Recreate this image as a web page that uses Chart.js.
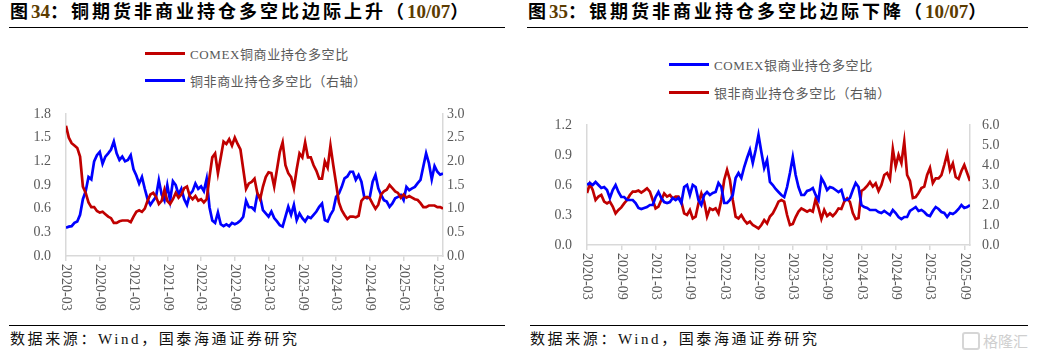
<!DOCTYPE html>
<html>
<head>
<meta charset="utf-8">
<script src="https://cdn.jsdelivr.net/npm/chart.js@4.4.1/dist/chart.umd.min.js"></script>
<style>
    body { margin: 0; background: #fff; }
    #page { position: relative; width: 1037px; height: 352px; overflow: hidden; font-family: "Liberation Serif", "Noto Sans CJK SC", serif; }
    .title { position: absolute; top: 0; font-size: 18px; line-height: 24px; font-weight: bold; letter-spacing: 3px; color: #000; white-space: nowrap; font-family: "Liberation Serif", "Noto Sans CJK SC", serif; }
    .title .num { color: #5c3c00; letter-spacing: 0; font-size: 19px; }
    .rule { position: absolute; height: 1px; background: #000; }
    .footer { position: absolute; top: 327px; font-size: 15px; letter-spacing: 2.6px; color: #111; white-space: nowrap; }
    .legend { position: absolute; font-size: 13px; color: #595959; letter-spacing: 0.6px; white-space: nowrap; }
    .legend .row { position: absolute; left: 0; height: 20px; display: flex; align-items: center; }
    .legend .swatch { width: 40px; height: 3px; margin-right: 5px; }
    canvas { position: absolute; top: 0; }
    .mark { position: absolute; left: 962px; top: 330px; color: #cfcfcf; font-size: 15px; font-family: "Noto Sans CJK SC", sans-serif; white-space: nowrap; }
    .mark b { display: inline-block; width: 14px; height: 14px; border: 2px solid #d6d6d6; border-radius: 3px; vertical-align: -3px; margin-right: 3px; }
</style>
</head>
<body>
<div id="page">
    <div class="title" style="left:10px">图<span class="num">34</span>：铜期货非商业持仓多空比边际上升（<span class="num">10/07</span>）</div>
    <div class="rule" style="left:9px; width:496px; top:27px"></div>
    <div class="title" style="left:528px">图<span class="num">35</span>：银期货非商业持仓多空比边际下降（<span class="num">10/07</span>）</div>
    <div class="rule" style="left:527px; width:501px; top:27px"></div>

    <div class="legend" id="legendCu" style="left:145px; top:0"></div>
    <div class="legend" id="legendAg" style="left:669px; top:0"></div>

    <canvas id="chartCu" width="520" height="320" style="left:0"></canvas>
    <canvas id="chartAg" width="517" height="320" style="left:520px"></canvas>

    <div class="rule" style="left:9px; width:496px; top:325px"></div>
    <div class="rule" style="left:530px; width:498px; top:325px"></div>
    <div class="footer" style="left:10px">数据来源：Wind，国泰海通证券研究</div>
    <div class="footer" style="left:530px">数据来源：Wind，国泰海通证券研究</div>
    <div class="mark"><b></b>格隆汇</div>
</div>
<script>
// x 轴：自 2020-03 起的月数，半月一个点
const months = Array.from({ length: 135 }, (_, i) => i * 0.5);
const tickMonths = [0, 6, 12, 18, 24, 30, 36, 42, 48, 54, 60, 66];
const tickLabels = ['2020-03', '2020-09', '2021-03', '2021-09', '2022-03', '2022-09',
    '2023-03', '2023-09', '2024-03', '2024-09', '2025-03', '2025-09'];

// 图34 铜
const cuComexLabel = 'COMEX铜商业持仓多空比';
const cuNonCommLabel = '铜非商业持仓多空比（右轴）';
const cuComex = [1.65, 1.50, 1.43, 1.40, 1.37, 1.26, 0.88, 0.80, 0.68, 0.62,
    0.62, 0.57, 0.55, 0.56, 0.53, 0.50, 0.48, 0.42, 0.42, 0.44,
    0.45, 0.45, 0.45, 0.43, 0.50, 0.56, 0.58, 0.56, 0.60, 0.70,
    0.78, 0.80, 0.75, 0.66, 0.70, 0.84, 0.70, 0.66, 0.72, 0.80,
    0.74, 0.78, 0.86, 0.88, 0.76, 0.72, 0.76, 0.70, 0.72, 0.68,
    0.72, 1.00, 1.25, 1.30, 1.05, 1.25, 1.45, 1.42, 1.48, 1.40,
    1.50, 1.42, 1.35, 1.10, 0.85, 0.92, 0.94, 0.98, 0.80, 0.72,
    0.88, 1.00, 1.06, 1.05, 0.88, 1.10, 1.32, 1.44, 1.15, 1.05,
    1.00, 0.86, 1.10, 1.30, 1.25, 1.44, 1.25, 1.25, 1.15, 1.08,
    0.98, 0.98, 1.20, 1.12, 1.40, 1.15, 0.92, 0.68, 0.58, 0.52,
    0.47, 0.50, 0.50, 0.49, 0.51, 0.70, 0.74, 0.75, 0.73, 0.66,
    0.60, 0.65, 0.78, 0.82, 0.84, 0.90, 0.86, 0.82, 0.80, 0.74,
    0.78, 0.74, 0.76, 0.74, 0.72, 0.71, 0.67, 0.62, 0.62, 0.64,
    0.64, 0.64, 0.62, 0.62, 0.60];
const cuNonComm = [0.60, 0.62, 0.63, 0.70, 0.73, 0.87, 1.20, 1.37, 1.67, 1.62,
    2.00, 2.13, 2.20, 1.95, 2.10, 2.17, 2.25, 2.42, 2.17, 2.03,
    2.10, 2.00, 2.03, 2.13, 1.83, 1.70, 1.53, 1.67, 1.42, 1.20,
    1.08, 1.17, 1.25, 1.60, 1.30, 1.17, 1.50, 1.17, 1.58, 1.50,
    1.30, 1.42, 1.20, 1.08, 1.30, 1.37, 1.53, 1.42, 1.47, 1.37,
    1.63, 1.03, 0.75, 0.70, 0.92, 0.67, 0.63, 0.67, 0.63, 0.70,
    0.67, 0.70, 0.75, 0.83, 1.17, 1.03, 1.03, 0.97, 1.30, 1.25,
    0.97, 0.90, 0.83, 0.94, 0.80, 0.73, 0.65, 0.62, 0.83, 1.04,
    0.87, 1.08, 0.76, 0.90, 0.80, 0.73, 0.83, 0.80, 0.87, 0.94,
    1.04, 1.11, 0.76, 0.73, 0.87, 0.97, 1.25, 1.32, 1.46, 1.64,
    1.68, 1.78, 1.78, 1.61, 1.71, 1.57, 1.25, 1.22, 1.25, 1.57,
    1.71, 1.43, 1.29, 1.18, 1.15, 1.04, 1.11, 1.22, 1.25, 1.29,
    1.18, 1.46, 1.39, 1.43, 1.46, 1.54, 1.61, 1.89, 2.17, 1.96,
    1.62, 1.90, 1.78, 1.72, 1.74];

// 图35 银
const agComexLabel = 'COMEX银商业持仓多空比';
const agNonCommLabel = '银非商业持仓多空比（右轴）';
const agComex = [0.60, 0.62, 0.60, 0.63, 0.60, 0.57, 0.58, 0.55, 0.47, 0.55,
    0.60, 0.53, 0.48, 0.48, 0.45, 0.45, 0.45, 0.42, 0.37, 0.36,
    0.37, 0.38, 0.40, 0.40, 0.48, 0.53, 0.47, 0.43, 0.42, 0.43,
    0.47, 0.45, 0.47, 0.42, 0.58, 0.60, 0.50, 0.60, 0.58, 0.45,
    0.40, 0.50, 0.53, 0.50, 0.52, 0.53, 0.62, 0.58, 0.42, 0.42,
    0.45, 0.50, 0.67, 0.72, 0.67, 0.78, 0.87, 0.95, 0.82, 0.95,
    1.10, 0.93, 0.77, 0.85, 0.63, 0.60, 0.56, 0.53, 0.50, 0.48,
    0.58, 0.72, 0.88, 0.70, 0.58, 0.50, 0.50, 0.54, 0.55, 0.57,
    0.50, 0.45, 0.67, 0.62, 0.55, 0.58, 0.57, 0.55, 0.53, 0.55,
    0.45, 0.45, 0.47, 0.55, 0.62, 0.58, 0.40, 0.38, 0.37, 0.35,
    0.35, 0.35, 0.33, 0.32, 0.34, 0.32, 0.30, 0.35, 0.32, 0.28,
    0.26, 0.28, 0.28, 0.34, 0.36, 0.38, 0.34, 0.35, 0.33, 0.30,
    0.29, 0.34, 0.38, 0.36, 0.33, 0.32, 0.28, 0.32, 0.31, 0.33,
    0.36, 0.40, 0.37, 0.38, 0.40];
const agNonComm = [2.60, 3.05, 2.75, 2.25, 2.42, 2.50, 2.17, 2.08, 2.17, 1.92,
    1.58, 1.75, 1.88, 2.08, 2.25, 2.50, 2.67, 2.67, 2.72, 2.62,
    2.72, 2.83, 2.67, 2.25, 1.83, 1.92, 2.25, 2.58, 2.42, 2.50,
    2.33, 2.42, 2.42, 2.17, 1.58, 1.50, 1.75, 1.33, 1.42, 2.08,
    2.58, 2.17, 1.42, 1.83, 1.75, 1.83, 1.58, 2.25, 3.25, 3.75,
    3.25, 2.25, 1.42, 1.33, 1.50, 1.25, 1.08, 1.17, 1.00, 0.92,
    0.83, 1.00, 1.25, 1.08, 1.42, 1.58, 1.85, 2.17, 2.25, 2.17,
    1.50, 1.00, 1.05, 1.40, 1.67, 1.83, 1.75, 1.67, 1.75, 1.67,
    2.30, 1.85, 1.30, 1.75, 1.45, 1.58, 1.45, 1.60, 1.83, 1.80,
    2.17, 2.33, 2.15, 1.60, 1.30, 1.35, 2.70, 2.80, 2.95, 3.15,
    2.92, 3.08, 2.70, 3.00, 3.50, 3.60, 3.30, 4.80, 3.92, 4.50,
    4.10, 5.17, 3.50, 3.20, 2.35, 2.40, 2.60, 2.85, 2.92, 3.50,
    3.85, 3.10, 3.33, 3.33, 3.50, 4.00, 4.55, 3.75, 4.08, 3.40,
    3.30, 3.70, 4.00, 3.60, 3.20];

const RED = '#c00000';
const BLUE = '#0000ff';
const AXIS = '#d9d9d9';
const TEXT = '#595959';
const FONT = { family: '"Liberation Serif", "Times New Roman", serif', size: 14 };

// x 轴标签顺时针竖排，Chart.js 自带旋转方向相反，所以自己画
const xLabelPlugin = {
    id: 'xLabels',
    afterDraw(chart) {
        const { ctx } = chart;
        const x = chart.scales.x;
        ctx.save();
        ctx.fillStyle = TEXT;
        ctx.font = FONT.size + 'px ' + FONT.family;
        ctx.textAlign = 'left';
        ctx.textBaseline = 'middle';
        x.ticks.forEach((t, i) => {
            ctx.save();
            ctx.translate(x.getPixelForValue(t.value), x.top + 8);
            ctx.rotate(Math.PI / 2);
            ctx.fillText(tickLabels[i], 0, 0);
            ctx.restore();
        });
        ctx.restore();
    }
};

function series(values, label, color, axis) {
    return {
        label: label,
        data: months.map((m, i) => ({ x: m, y: values[i] })),
        borderColor: color,
        borderWidth: 2.7,
        pointRadius: 0,
        tension: 0,
        yAxisID: axis
    };
}

function makeChart(id, datasets, box) {
    return new Chart(document.getElementById(id), {
        type: 'line',
        data: { datasets: datasets },
        plugins: [xLabelPlugin],
        options: {
            responsive: false,
            animation: false,
            layout: { padding: { top: box.top, left: 0, right: 0, bottom: 0 } },
            plugins: { legend: { display: false }, tooltip: { enabled: false } },
            scales: {
                x: {
                    type: 'linear',
                    min: 0,
                    max: 67,
                    afterBuildTicks: s => { s.ticks = tickMonths.map(v => ({ value: v })); },
                    afterFit: s => { s.height = box.xHeight; },
                    ticks: { display: false },
                    grid: { display: true, drawOnChartArea: false, drawTicks: true, tickLength: 5, color: AXIS, lineWidth: 1.5 },
                    border: { color: AXIS, width: 1.5 }
                },
                y: {
                    position: 'left',
                    min: 0,
                    max: box.yMax,
                    afterFit: s => { s.width = box.yWidth; },
                    ticks: { stepSize: box.yStep, callback: v => v.toFixed(1), color: TEXT, font: FONT, padding: box.yPad },
                    grid: { display: false, drawTicks: false },
                    border: { color: AXIS, width: 1.5 }
                },
                y1: {
                    position: 'right',
                    min: 0,
                    max: box.y1Max,
                    afterFit: s => { s.width = box.y1Width; },
                    ticks: { stepSize: box.y1Step, callback: v => v.toFixed(1), color: TEXT, font: FONT, padding: box.y1Pad },
                    grid: { display: false, drawTicks: false },
                    border: { color: AXIS, width: 1.5 }
                }
            }
        }
    });
}

function makeLegend(id, items) {
    const el = document.getElementById(id);
    items.forEach(it => {
        const row = document.createElement('div');
        row.className = 'row';
        row.style.top = (it.y - 10) + 'px';
        row.innerHTML = '<span class="swatch" style="background:' + it.color + '"></span><span>' + it.label + '</span>';
        el.appendChild(row);
    });
}

document.addEventListener('DOMContentLoaded', () => {
    makeChart('chartCu', [
        series(cuComex, cuComexLabel, RED, 'y'),
        series(cuNonComm, cuNonCommLabel, BLUE, 'y1')
    ], { top: 114, xHeight: 64, yMax: 1.8, yStep: 0.3, yWidth: 66, yPad: 15, y1Max: 3.0, y1Step: 0.5, y1Width: 77, y1Pad: 4 });

    makeChart('chartAg', [
        series(agComex, agComexLabel, BLUE, 'y'),
        series(agNonComm, agNonCommLabel, RED, 'y1')
    ], { top: 125, xHeight: 75, yMax: 1.2, yStep: 0.3, yWidth: 67, yPad: 15, y1Max: 6.0, y1Step: 1.0, y1Width: 67, y1Pad: 12 });

    makeLegend('legendCu', [
        { label: cuComexLabel, color: RED, y: 53 },
        { label: cuNonCommLabel, color: BLUE, y: 80 }
    ]);
    makeLegend('legendAg', [
        { label: agComexLabel, color: BLUE, y: 64 },
        { label: agNonCommLabel, color: RED, y: 92 }
    ]);
});
</script>
</body>
</html>
